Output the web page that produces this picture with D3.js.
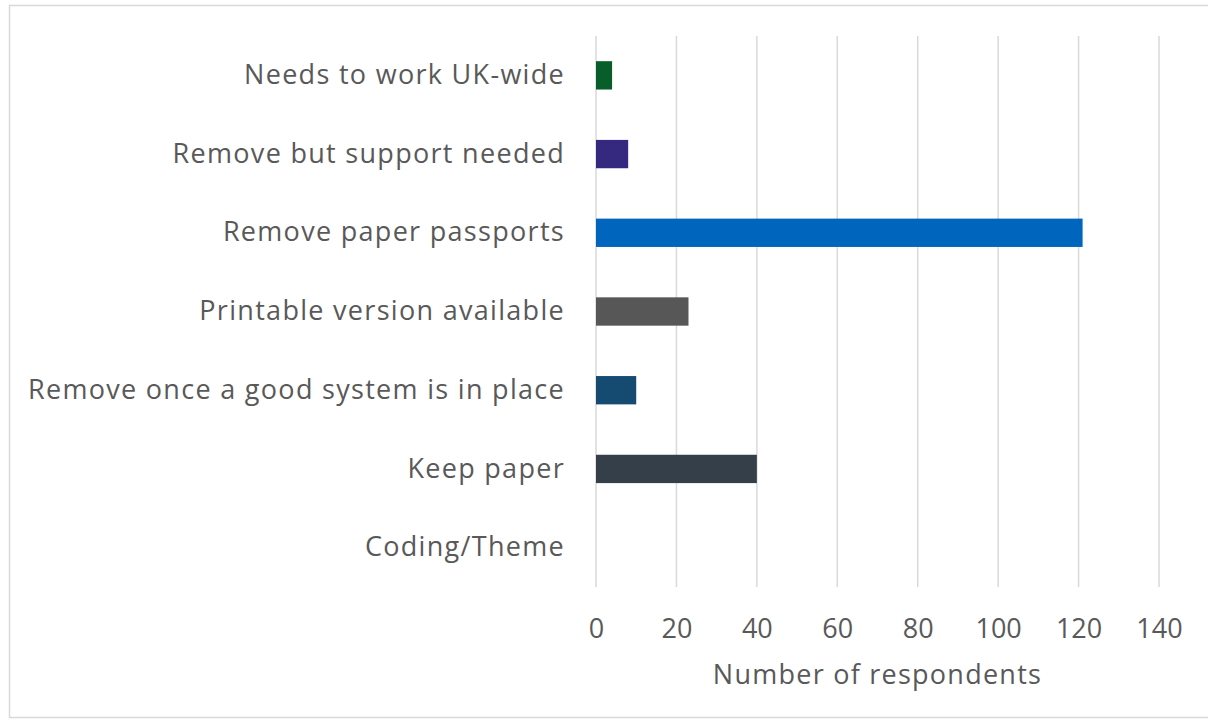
<!DOCTYPE html>
<html>
<head>
<meta charset="utf-8">
<script src="https://cdn.jsdelivr.net/npm/d3@7"></script>
<style>
  body { margin: 0; background: #fff; }
  text { font-family: "Open Sans", "Noto Sans", sans-serif; fill: #595959; }
</style>
</head>
<body>
<div id="chart"></div>
<script>
// categories top to bottom, as in the picture
var categories = ["Needs to work UK-wide", "Remove but support needed", "Remove paper passports",
  "Printable version available", "Remove once a good system is in place", "Keep paper", "Coding/Theme"];
var values = [4, 8, 121, 23, 10, 40, 0];
var colors = ["#075e2b", "#35287f", "#0066bd", "#575757", "#164b71", "#343f4a", "#595959"];
var ticks = [0, 20, 40, 60, 80, 100, 120, 140];
var axisTitle = "Number of respondents";

var width = 1208, height = 720;

var svg = d3.select("#chart").append("svg")
    .attr("width", width)
    .attr("height", height);

// chart border
svg.append("rect")
    .attr("x", 9.5).attr("y", 5.5)
    .attr("width", width).attr("height", height - 8)
    .attr("fill", "none")
    .attr("stroke", "#d9d9d9")
    .attr("stroke-width", 1.5);

var x = d3.scaleLinear().domain([0, 140]).range([596, 1159]);
var y = d3.scaleBand().domain(categories).range([36, 587]).paddingInner(0.64).paddingOuter(0.32);

// gridlines
svg.append("g")
  .selectAll("line")
  .data(ticks)
  .enter().append("line")
    .attr("x1", function(d){ return x(d); })
    .attr("x2", function(d){ return x(d); })
    .attr("y1", 36).attr("y2", 587)
    .attr("stroke", "#d9d9d9")
    .attr("stroke-width", 1.5);

// bars
svg.append("g")
  .selectAll("rect")
  .data(categories)
  .enter().append("rect")
    .attr("x", x(0))
    .attr("y", function(d){ return y(d); })
    .attr("width", function(d, i){ return x(values[i]) - x(0); })
    .attr("height", y.bandwidth())
    .attr("fill", function(d, i){ return colors[i]; });

// x axis tick labels
var xAxis = d3.axisBottom(x).tickValues(ticks).tickSize(0).tickPadding(0);
var gx = svg.append("g").attr("transform", "translate(0,619)").call(xAxis);
gx.select(".domain").remove();
gx.selectAll("text")
    .attr("dy", "0.71em")
    .style("font-size", "27px")
    .style("fill", "#595959");

// category labels
var yAxis = d3.axisLeft(y).tickSize(0).tickPadding(0);
var gy = svg.append("g").attr("transform", "translate(565,0)").call(yAxis);
gy.select(".domain").remove();
gy.selectAll("text")
    .style("font-size", "27px")
    .style("letter-spacing", "1.3px")
    .style("fill", "#595959");

// axis title
svg.append("text")
    .attr("x", (x(0) + x(140)) / 2)
    .attr("y", 684)
    .attr("text-anchor", "middle")
    .style("font-size", "27px")
    .style("letter-spacing", "1.25px")
    .text(axisTitle);
</script>
</body>
</html>
